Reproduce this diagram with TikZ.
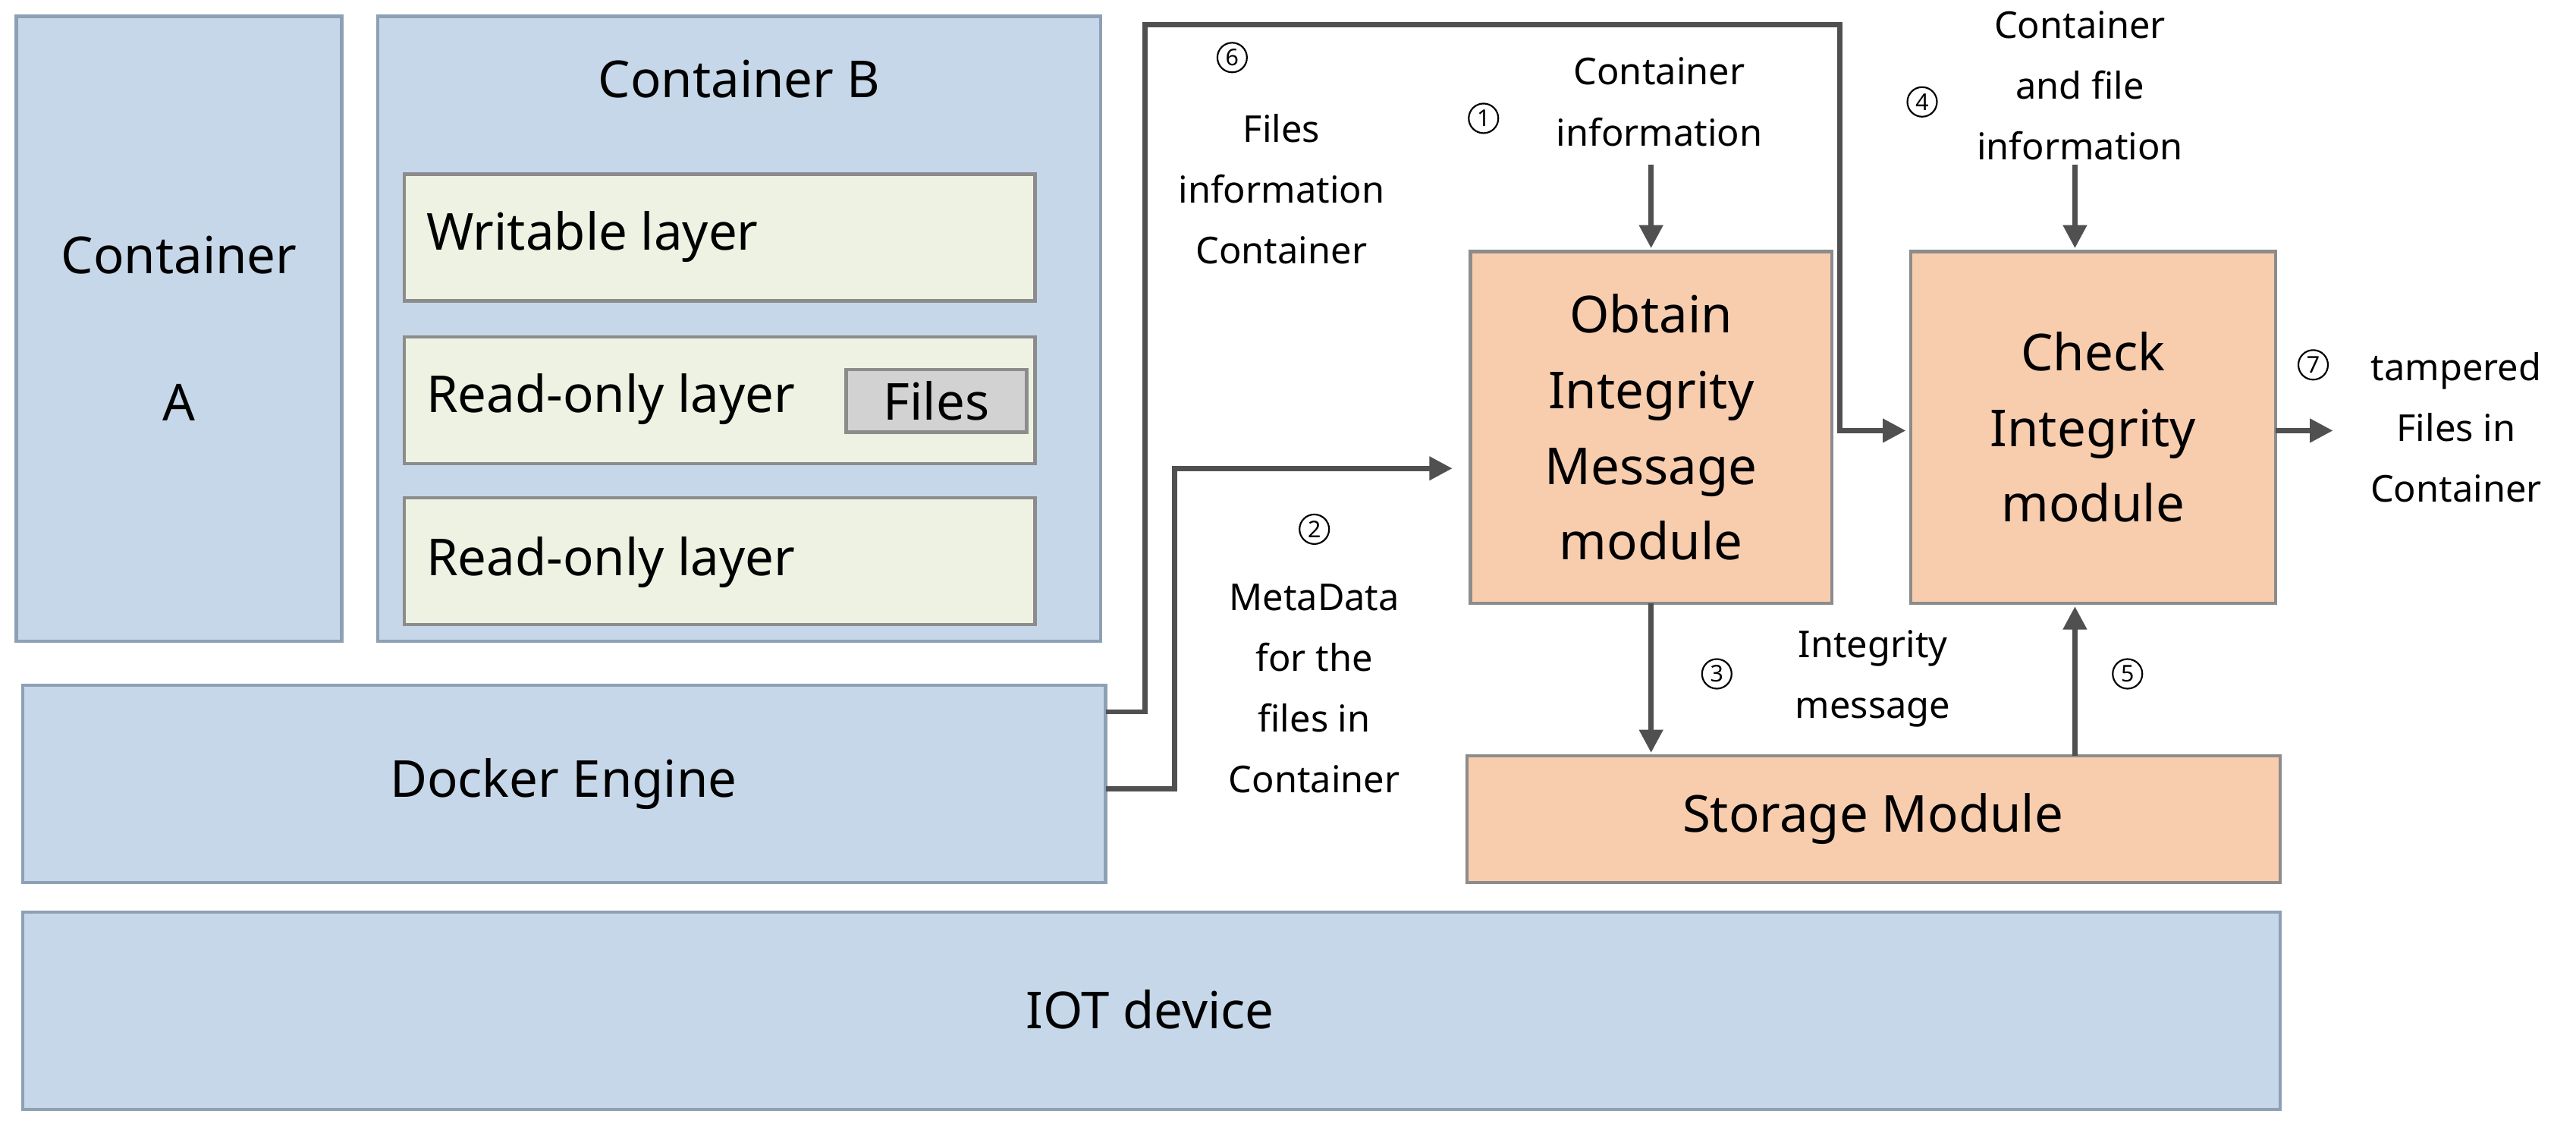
\documentclass[tikz,border=0pt]{standalone}
\usepackage{fontspec}
\setmainfont{Noto Sans}
\usetikzlibrary{arrows.meta}
\definecolor{bfill}{HTML}{C6D7E9}
\definecolor{bdraw}{HTML}{8DA0B5}
\definecolor{lfill}{HTML}{EEF2E3}
\definecolor{ofill}{HTML}{F8CDAE}
\definecolor{odraw}{HTML}{8C8C8C}
\definecolor{arr}{HTML}{505050}
\begin{document}
\begin{tikzpicture}[x=1pt,y=-1pt,
  box/.style={draw=bdraw,fill=bfill,line width=2pt},
  lay/.style={draw=odraw,fill=lfill,line width=2pt},
  org/.style={draw=odraw,fill=ofill,line width=2pt},
  big/.style={font=\fontsize{31}{36}\selectfont,align=center},
  lab/.style={font=\fontsize{22.5}{37}\selectfont,align=center},
  num/.style={circle,draw,inner sep=0pt,minimum size=18pt,line width=1pt,font=\fontsize{14}{14}\selectfont},
  ar/.style={draw=arr,line width=3pt,-{Triangle[length=14pt,width=14pt]}}]
\useasboundingbox (0,0) rectangle (1568,691);
\fill[white] (0,0) rectangle (1568,691);
% left side
\draw[box] (10,10) rectangle (208,390);
\node[big] (ca1) at (109,155) {Container};
\node[big] (ca2) at (109,245) {A};
\draw[box] (230,10) rectangle (670,390);
\node[big] (cb) at (450,48) {Container B};
\draw[lay] (246,106) rectangle (630,183);
\node[big,anchor=west] (wl) at (256,144) {Writable layer};
\draw[lay] (246,205) rectangle (630,282);
\node[big,anchor=west] (rl1) at (256,243) {Read-only layer};
\draw[draw=odraw,fill=gray!35,line width=2pt] (515,225) rectangle (625,263);
\node[big] (files) at (570,244) {Files};
\draw[lay] (246,303) rectangle (630,380);
\node[big,anchor=west] (rl2) at (256,342) {Read-only layer};
\draw[box] (14,417) rectangle (673,537);
\node[big] (de) at (343,477) {Docker Engine};
\draw[box] (14,555) rectangle (1388,675);
\node[big] (iot) at (700,614) {IOT device};
% modules
\draw[org] (895,153) rectangle (1115,367);
\node[big,font=\fontsize{31}{46}\selectfont] (ob) at (1005,260) {Obtain\\Integrity\\Message\\module};
\draw[org] (1163,153) rectangle (1385,367);
\node[big,font=\fontsize{31}{46}\selectfont] (ck) at (1274,260) {Check\\Integrity\\module};
\draw[org] (893,460) rectangle (1388,537);
\node[big] (st) at (1140,498) {Storage Module};
% arrows
\coordinate (d1) at (673,433);
\coordinate (d2) at (673,480);
\draw[ar] (d1) -- (697,433) -- (697,15) -- (1120,15) -- (1120,262) -- (1160,262);
\draw[ar] (d2) -- (715,480) -- (715,285) -- (884,285);
\coordinate (t1) at (1005,100);
\coordinate (t4) at (1263,100);
\coordinate (o7) at (1420,262);
\draw[ar] (t1) -- (1005,151);
\draw[ar] (t4) -- (1263,151);
\draw[ar] (1005,367) -- (1005,458);
\draw[ar] (1263,460) -- (1263,369);
\draw[ar] (1385,262) -- (o7);
% labels
\node[num] (n6) at (750,35) {6};
\node[lab] (l6) at (780,115) {Files\\information\\Container};
\node[num] (n1) at (903,72) {1};
\node[lab] (l1) at (1010,62) {Container\\information};
\node[num] (n4) at (1170,62) {4};
\node[lab] (l4) at (1266,52) {Container\\and file\\information};
\node[num] (n2) at (800,322) {2};
\node[lab] (l2) at (800,419) {MetaData\\for the\\files in\\Container};
\node[num] (n3) at (1045,410) {3};
\node[lab] (l3) at (1140,413) {Integrity\\message};
\node[num] (n5) at (1295,410) {5};
\node[num] (n7) at (1408,222) {7};
\node[lab] (l7) at (1495,260) {tampered\\Files in\\Container};
\end{tikzpicture}
\end{document}
